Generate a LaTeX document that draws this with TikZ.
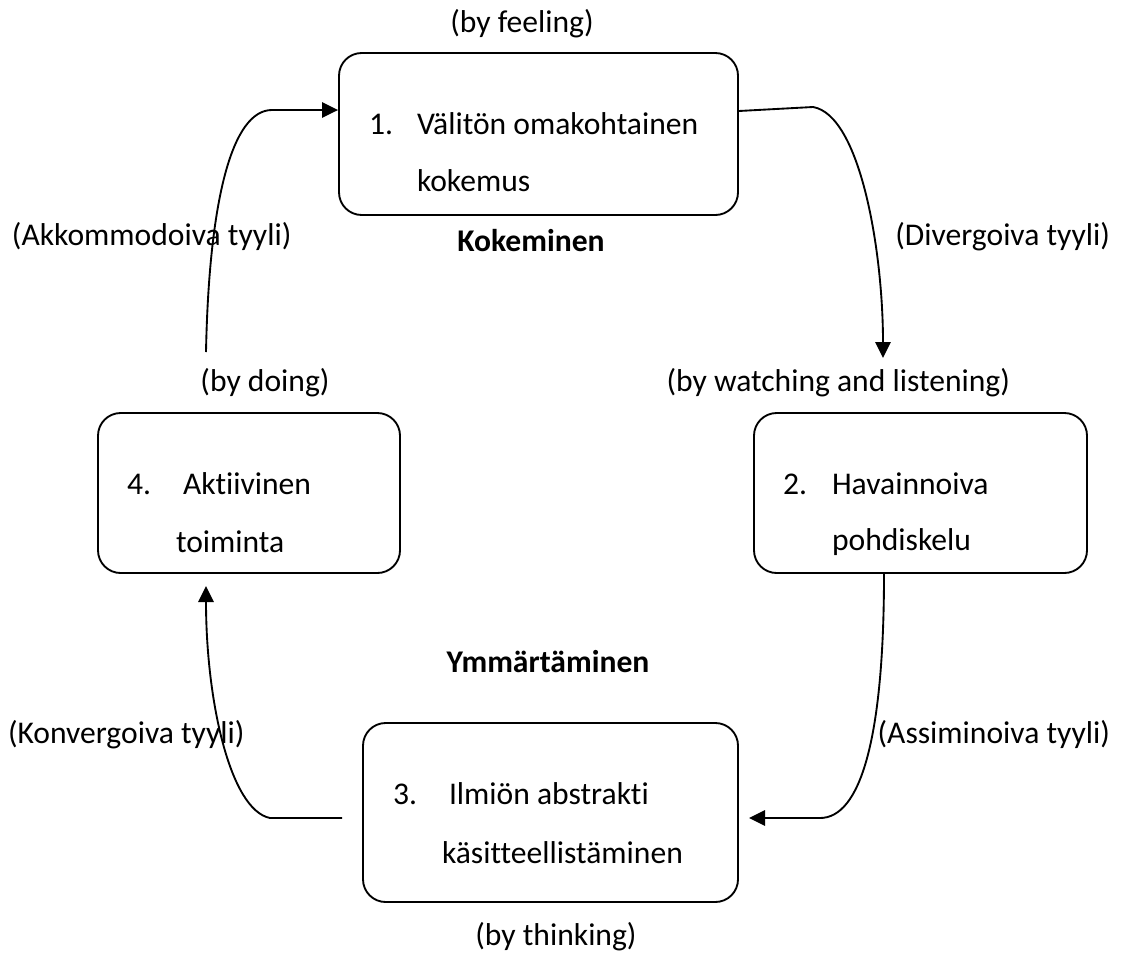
\documentclass[tikz,border=0pt]{standalone}
\usepackage{fontspec}
\setmainfont{Carlito}[Ligatures={NoCommon}]
\usetikzlibrary{arrows.meta,calc}
\begin{document}
\begin{tikzpicture}[x=0.75pt,y=-0.75pt,
  font=\fontsize{23.7}{28}\selectfont,
  box/.style={draw,line width=1.4pt,rounded corners=17pt,inner sep=0pt},
  lbl/.style={inner sep=0pt,outer sep=0pt},
  arr/.style={line width=1.4pt,-{Triangle[length=12pt,width=11.5pt]}}]
\useasboundingbox[fill=white] (0,0) rectangle (1123,964);

% boxes
\node[box,minimum width=299.25pt,minimum height=121.5pt] (B1) at (538.5,134) {};
\node[box,minimum width=249.75pt,minimum height=120pt] (B2) at (920.5,493) {};
\node[box,minimum width=281.25pt,minimum height=134.25pt] (B3) at (550.5,812.5) {};
\node[box,minimum width=226.5pt,minimum height=120pt] (B4) at (249,493) {};

% box texts
\node[lbl,anchor=base west] (t1n) at (369,134) {1.};
\node[lbl,anchor=base west] (t1a) at (417,134) {Välitön omakohtainen};
\node[lbl,anchor=base west] (t1b) at (417,191) {kokemus};
\node[lbl,anchor=base west] (t2n) at (783,494) {2.};
\node[lbl,anchor=base west] (t2a) at (832,494) {Havainnoiva};
\node[lbl,anchor=base west] (t2b) at (832,550) {pohdiskelu};
\node[lbl,anchor=base west] (t3n) at (393,804) {3.};
\node[lbl,anchor=base west] (t3a) at (449,804) {Ilmiön abstrakti};
\node[lbl,anchor=base west] (t3b) at (442,863) {käsitteellistäminen};
\node[lbl,anchor=base west] (t4n) at (127,494) {4.};
\node[lbl,anchor=base west] (t4a) at (183,494) {Aktiivinen};
\node[lbl,anchor=base west] (t4b) at (176,552) {toiminta};

% outer labels
\node[lbl,anchor=base] (feel) at (522,32) {(by feeling)};
\node[lbl,anchor=base] (kok) at (531,251) {\bfseries Kokeminen};
\node[lbl,anchor=base west] (akk) at (12,245) {(Akkommodoiva tyyli)};
\node[lbl,anchor=base east] (div) at (1110,245) {(Divergoiva tyyli)};
\node[lbl,anchor=base] (doing) at (265,391) {(by doing)};
\node[lbl,anchor=base east] (watch) at (1010,391) {(by watching and listening)};
\node[lbl,anchor=base] (ymm) at (548,672) {\bfseries Ymmärtäminen};
\node[lbl,anchor=base west] (konv) at (8,743) {(Konvergoiva tyyli)};
\node[lbl,anchor=base east] (assi) at (1110,743) {(Assiminoiva tyyli)};
\node[lbl,anchor=base] (think) at (556,945) {(by thinking)};

% connector end points
\coordinate (a1s) at (206,352);
\coordinate (a1k) at (272,110);
\coordinate (a2s) at ($(B1.east)+(0,-23)$);
\coordinate (a2k) at (813,107);
\coordinate (a2e) at (883,358);
\coordinate (a3s) at ($(B2.south)+(-36.5,0)$);
\coordinate (a3k) at (820,818);
\coordinate (a3e) at (749,818);
\coordinate (a4s) at ($(B3.west)+(-20,5.5)$);
\coordinate (a4k) at (270,818);
\coordinate (a4e) at (206,586);

% connectors
\draw[arr] (a1s) .. controls (209,200) and (232,110) .. (a1k) -- (B1.west |- a1k);
\draw[arr] (a2s) -- (a2k) .. controls (860,115) and (883,250) .. (a2e);
\draw[arr] (a3s) .. controls (884,740) and (860,818) .. (a3k) -- (a3e);
\draw[arr] (a4s) -- (a4k) .. controls (230,810) and (206,700) .. (a4e);
\end{tikzpicture}
\end{document}
